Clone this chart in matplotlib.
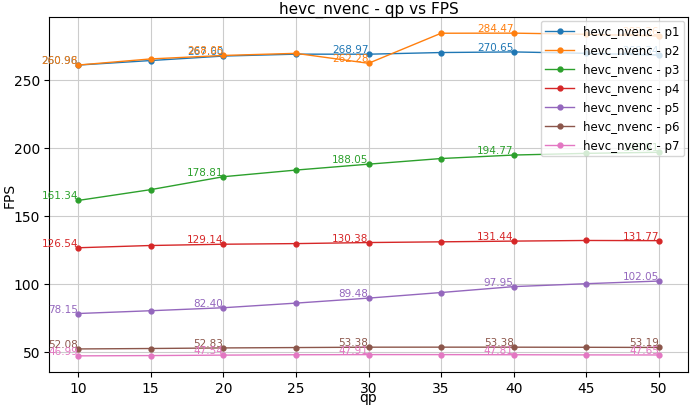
import matplotlib
matplotlib.use("Agg")
import matplotlib.pyplot as plt

qp = [10, 15, 20, 25, 30, 35, 40, 45, 50]

p1 = [260.96, 264.3, 267.6, 269.0, 268.97, 270.2, 270.65, 269.6, 268.34]
p2 = [260.98, 265.5, 268.05, 269.6, 262.28, 284.4, 284.47, 283.6, 282.36]
p3 = [161.34, 169.3, 178.81, 183.7, 188.05, 192.2, 194.77, 196.0, 196.81]
p4 = [126.54, 128.2, 129.14, 129.6, 130.38, 130.9, 131.44, 131.9, 131.77]
p5 = [78.15, 80.2, 82.40, 85.8, 89.48, 93.6, 97.95, 100.1, 102.05]
p6 = [52.08, 52.4, 52.83, 53.1, 53.38, 53.4, 53.38, 53.3, 53.19]
p7 = [46.99, 47.2, 47.54, 47.8, 47.91, 47.9, 47.81, 47.7, 47.65]

series = [p1, p2, p3, p4, p5, p6, p7]
names = ["hevc_nvenc - p1", "hevc_nvenc - p2", "hevc_nvenc - p3", "hevc_nvenc - p4",
         "hevc_nvenc - p5", "hevc_nvenc - p6", "hevc_nvenc - p7"]

fig = plt.figure(figsize=(6.9, 4.1), dpi=100)
ax = fig.add_subplot(111)
fig.subplots_adjust(left=49/690, right=688/690, top=1-18/410, bottom=1-373/410)

colors = plt.rcParams['axes.prop_cycle'].by_key()['color']
for vals, name, c in zip(series, names, colors):
    ax.plot(qp, vals, marker='o', markersize=3.5, linewidth=1, color=c, label=name)
    # label every other point
    for x, y in list(zip(qp, vals))[::2]:
        ax.text(x, y, f"{y:.2f}", ha='right', va='bottom', color=c, fontsize=7.5)

ax.set_title("hevc_nvenc - qp vs FPS", fontsize=11, pad=3)
ax.set_xlabel("qp", fontsize=10)
ax.set_ylabel("FPS", fontsize=10)
ax.xaxis.set_label_coords(0.5, -0.052)
ax.yaxis.set_label_coords(-0.05, 0.5)
ax.set_xticks(qp)
ax.tick_params(labelsize=10, pad=3)
ax.grid(True, color='#cccccc', linewidth=0.8)
ax.legend(loc='upper right', fontsize=8.5, labelspacing=0.5, handlelength=2.4,
          borderaxespad=0.3)

fig.savefig("out.png", dpi=100)
